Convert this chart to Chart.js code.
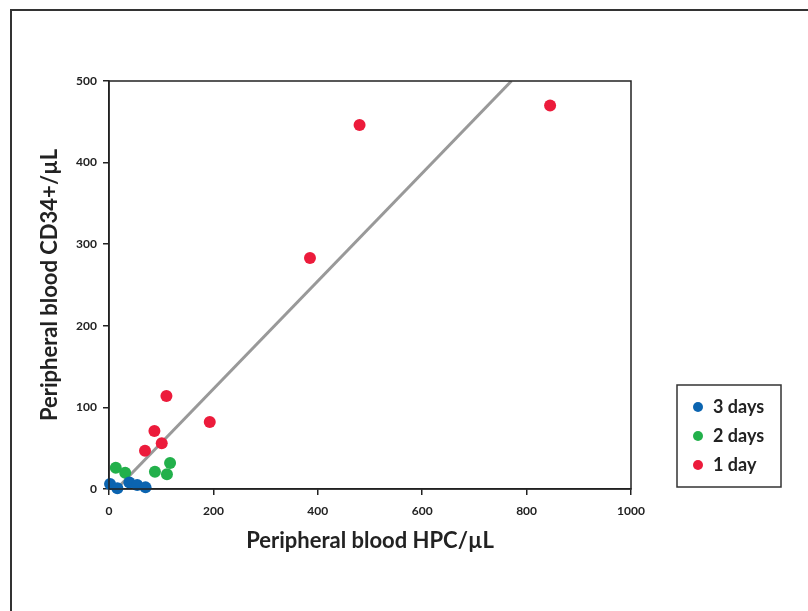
<!DOCTYPE html>
<html>
<head>
<meta charset="utf-8">
<script src="https://cdn.jsdelivr.net/npm/chart.js@4/dist/chart.umd.min.js"></script>
<style>
    body { margin: 0; background: #fff; }
    .wrap { position: relative; width: 808px; height: 611px; overflow: hidden; }
    .frame {
        position: absolute; left: 10px; top: 9px; width: 820px; height: 620px;
        border-top: 2px solid #333; border-left: 2px solid #333;
    }
    canvas { position: absolute; left: 0; top: 0; }
</style>
</head>
<body>
<div class="wrap">
    <div class="frame"></div>
    <canvas id="scatterChart" width="808" height="611"></canvas>
</div>
<script>
// Values (HPC/µL, CD34+/µL)
const threeDaysX = [2, 16, 39, 54, 70];
const threeDaysY = [6, 1, 8, 5, 2];
const twoDaysX = [13, 31, 88, 111, 117];
const twoDaysY = [26, 20, 21, 18, 32];
const oneDayX = [69, 87, 101, 110, 193, 385, 480, 845];
const oneDayY = [47, 71, 56, 114, 82, 283, 446, 470];
// regression line end points
const fitX = [14.5, 771];
const fitY = [0, 500];

const seriesLabels = ['3 days', '2 days', '1 day'];
const seriesColors = ['#0b64b0', '#22b04b', '#ec1b3b'];

const xTicks = [0, 200, 400, 600, 800, 1000];
const yTicks = [0, 100, 200, 300, 400, 500];

function toPoints(xs, ys) {
    return xs.map((x, i) => ({ x: x, y: ys[i] }));
}

const FONT = 'Lato, "Open Sans", sans-serif';

// box around plot area
const plotBorder = {
    id: 'plotBorder',
    afterDraw(chart) {
        const { ctx, chartArea: a } = chart;
        ctx.save();
        ctx.strokeStyle = '#222';
        ctx.lineWidth = 1.5;
        ctx.strokeRect(a.left, a.top, a.right - a.left, a.bottom - a.top);
        ctx.restore();
    }
};

// legend box at right of the plot
const boxLegend = {
    id: 'boxLegend',
    afterDraw(chart) {
        const ctx = chart.ctx;
        ctx.save();
        ctx.strokeStyle = '#333';
        ctx.lineWidth = 1.5;
        ctx.strokeRect(677, 385, 104, 102);
        ctx.font = 'bold 18px ' + FONT;
        ctx.textBaseline = 'middle';
        seriesLabels.forEach((label, i) => {
            const y = 407 + i * 29;
            ctx.beginPath();
            ctx.arc(698, y, 5, 0, Math.PI * 2);
            ctx.fillStyle = seriesColors[i];
            ctx.fill();
            ctx.fillStyle = '#222';
            ctx.fillText(label, 713, y);
        });
        ctx.restore();
    }
};

const ctx = document.getElementById('scatterChart').getContext('2d');
new Chart(ctx, {
    type: 'scatter',
    data: {
        datasets: [
            {
                label: seriesLabels[0],
                data: toPoints(threeDaysX, threeDaysY),
                backgroundColor: seriesColors[0],
                borderWidth: 0,
                pointRadius: 6,
                clip: false,
                order: 1
            },
            {
                label: seriesLabels[1],
                data: toPoints(twoDaysX, twoDaysY),
                backgroundColor: seriesColors[1],
                borderWidth: 0,
                pointRadius: 6,
                clip: false,
                order: 1
            },
            {
                label: seriesLabels[2],
                data: toPoints(oneDayX, oneDayY),
                backgroundColor: seriesColors[2],
                borderWidth: 0,
                pointRadius: 6,
                clip: false,
                order: 1
            },
            {
                type: 'line',
                label: 'fit',
                data: toPoints(fitX, fitY),
                borderColor: '#999',
                borderWidth: 3,
                pointRadius: 0,
                fill: false,
                order: 2
            }
        ]
    },
    options: {
        responsive: false,
        animation: false,
        layout: { padding: { left: 0, top: 81, right: 177, bottom: 0 } },
        plugins: {
            legend: { display: false },
            tooltip: { enabled: false }
        },
        scales: {
            x: {
                type: 'linear',
                min: 0,
                max: 1000,
                afterBuildTicks: s => { s.ticks = xTicks.map(v => ({ value: v })); },
                afterFit: s => { s.height = 122; },
                grid: { display: true, drawOnChartArea: false, tickLength: 6, color: '#222', lineWidth: 1.5 },
                border: { display: true, color: '#222', width: 1.5 },
                ticks: {
                    color: '#222', padding: 9,
                    font: { family: FONT, size: 12, weight: 'bold' },
                    callback: v => String(v)
                },
                title: {
                    display: true,
                    text: 'Peripheral blood HPC/µL',
                    color: '#222',
                    padding: { top: 0, bottom: 57 },
                    font: { family: FONT, size: 22, weight: 'bold' }
                }
            },
            y: {
                type: 'linear',
                min: 0,
                max: 500,
                afterBuildTicks: s => { s.ticks = yTicks.map(v => ({ value: v })); },
                afterFit: s => { s.width = 109; },
                grid: { display: true, drawOnChartArea: false, tickLength: 6, color: '#222', lineWidth: 1.5 },
                border: { display: true, color: '#222', width: 1.5 },
                ticks: {
                    color: '#222', padding: 6,
                    font: { family: FONT, size: 12, weight: 'bold' },
                    callback: v => String(v)
                },
                title: {
                    display: true,
                    text: 'Peripheral blood CD34+/µL',
                    color: '#222',
                    padding: { top: 37, bottom: 0 },
                    font: { family: FONT, size: 22, weight: 'bold' }
                }
            }
        }
    },
    plugins: [plotBorder, boxLegend]
});
</script>
</body>
</html>
